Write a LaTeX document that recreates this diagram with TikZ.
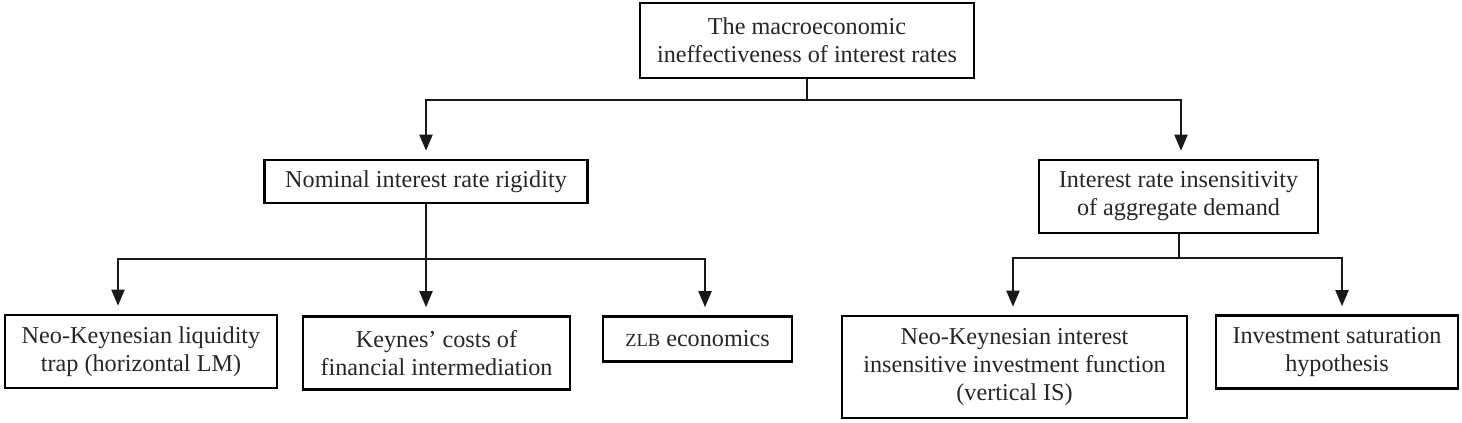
\documentclass[tikz,border=0pt]{standalone}
\usepackage{fontspec}
\setmainfont{Liberation Serif}
\usetikzlibrary{arrows.meta}
\begin{document}
\begin{tikzpicture}[x=1pt,y=-1pt,
  box/.style={draw=black, line width=2.6pt, align=center, inner sep=0pt,
    font=\fontsize{24.2}{28}\selectfont, text=black!85},
  conn/.style={line width=2pt, draw=black!90},
  arr/.style={conn, -{Triangle[width=13pt,length=16pt]}, shorten >=8pt}]
\useasboundingbox (0,0) rectangle (1462,423);
\node[box, minimum width=334pt, minimum height=75pt] (top) at (807,40.5)
  {The macroeconomic\\ineffectiveness of interest rates};
\node[box, minimum width=323pt, minimum height=43pt] (nom) at (426,181.5)
  {Nominal interest rate rigidity};
\node[box, minimum width=279pt, minimum height=73pt] (ird) at (1178.5,196.5)
  {Interest rate insensitivity\\of aggregate demand};
\node[box, minimum width=272pt, minimum height=73pt] (b1) at (141,351.5)
  {Neo-Keynesian liquidity\\trap (horizontal LM)};
\node[box, minimum width=267pt, minimum height=73pt] (b2) at (436.5,353)
  {Keynes' costs of\\financial intermediation};
\node[box, minimum width=189pt, minimum height=45pt] (b3) at (697.5,339)
  {{\fontsize{18.5}{28}\selectfont ZLB} economics};
\node[box, minimum width=345pt, minimum height=102pt] (b4) at (1014.5,367)
  {Neo-Keynesian interest\\insensitive investment function\\(vertical IS)};
\node[box, minimum width=242pt, minimum height=73pt] (b5) at (1337,352)
  {Investment saturation\\hypothesis};
\coordinate (j1) at (807,100);
\coordinate (j2) at (426,259);
\coordinate (j3) at (1179,258);
\draw[conn] (top.south) -- (j1);
\draw[arr] (j1) -| (nom.north);
\draw[arr] (j1) -| ([xshift=2.5pt]ird.north);
\draw[conn] (nom.south) -- (j2);
\draw[arr] (j2) -| ([xshift=-23pt]b1.north);
\draw[arr] (j2) -| ([xshift=-10.5pt]b2.north);
\draw[arr] (j2) -| ([xshift=7.5pt]b3.north);
\draw[conn] (ird.south -| j3) -- (j3);
\draw[arr] (j3) -| ([xshift=-1.5pt]b4.north);
\draw[arr] (j3) -| ([xshift=5pt]b5.north);
\end{tikzpicture}
\end{document}
